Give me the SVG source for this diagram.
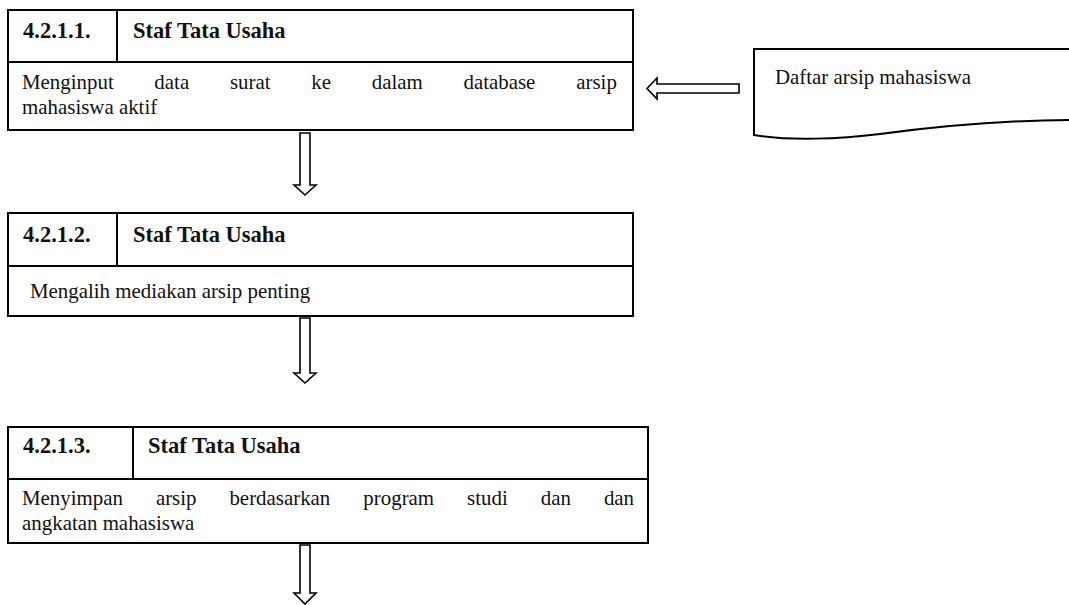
<svg xmlns="http://www.w3.org/2000/svg" width="1069" height="605" viewBox="0 0 1069 605">
<style>
.box{fill:#fff;stroke:#000;stroke-width:2}
.ln{stroke:#000;stroke-width:2}
.arr{fill:#fff;stroke:#000;stroke-width:1.6;stroke-linejoin:miter}
.t{font-family:"Liberation Serif","Times New Roman",serif;font-size:22px;fill:#111}
.b{font-weight:bold;font-size:22.5px}
</style>
<rect width="1069" height="605" fill="#fff"/>
<g id="node1">
<rect class="box" x="8" y="10" width="625" height="120"/>
<line class="ln" x1="8" y1="62" x2="633" y2="62"/>
<line class="ln" x1="117" y1="10" x2="117" y2="62"/>
<text class="t b" x="23" y="38">4.2.1.1.</text>
<text class="t b" x="133" y="38">Staf Tata Usaha</text>
<g transform="scale(0.95,1)">
<text class="t" y="89"><tspan x="23.2">Menginput</tspan><tspan x="162.5">data</tspan><tspan x="242">surat</tspan><tspan x="327.7">ke</tspan><tspan x="391.3">dalam</tspan><tspan x="487.9">database</tspan><tspan x="606.6">arsip</tspan></text>
<text class="t" x="23.2" y="114">mahasiswa aktif</text>
</g>
</g>
<g id="node2">
<rect class="box" x="8" y="213" width="625" height="103"/>
<line class="ln" x1="8" y1="266" x2="633" y2="266"/>
<line class="ln" x1="117" y1="213" x2="117" y2="266"/>
<text class="t b" x="23" y="242">4.2.1.2.</text>
<text class="t b" x="133" y="242">Staf Tata Usaha</text>
<g transform="scale(0.95,1)">
<text class="t" x="31.6" y="298">Mengalih mediakan arsip penting</text>
</g>
</g>
<g id="node3">
<rect class="box" x="8" y="427" width="640" height="116"/>
<line class="ln" x1="8" y1="479" x2="648" y2="479"/>
<line class="ln" x1="133" y1="427" x2="133" y2="479"/>
<text class="t b" x="23" y="453">4.2.1.3.</text>
<text class="t b" x="148" y="453">Staf Tata Usaha</text>
<g transform="scale(0.95,1)">
<text class="t" y="505"><tspan x="23.2">Menyimpan</tspan><tspan x="164.1">arsip</tspan><tspan x="241.5">berdasarkan</tspan><tspan x="382.5">program</tspan><tspan x="491.7">studi</tspan><tspan x="569.3">dan</tspan><tspan x="635.7">dan</tspan></text>
<text class="t" x="23.2" y="530">angkatan mahasiswa</text>
</g>
</g>
<g id="doc">
<path class="box" d="M754 49 L1075 49 L1075 120 C1000 120 940 126 880 134 C840 139 790 141 754 135 Z"/>
<text class="t" transform="scale(0.95,1)" x="815.8" y="84">Daftar arsip mahasiswa</text>
</g>
<g id="connectors">
<polygon class="arr" points="647,88.5 657,78 657,84 739,84 739,93 657,93 657,99"/>
<polygon class="arr" points="300,133 310,133 310,185 316,185 305,195 294,185 300,185"/>
<polygon class="arr" points="300,318 310,318 310,373 316,373 305,383 294,373 300,373"/>
<polygon class="arr" points="300,545 310,545 310,593 316,593 305,604 294,593 300,593"/>
</g>
</svg>
